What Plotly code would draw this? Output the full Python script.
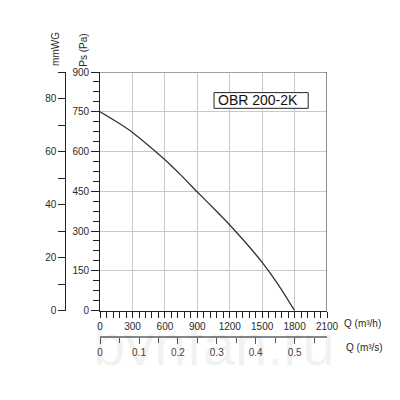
import plotly.graph_objects as go

# Data
q_m3h = [0, 150, 300, 450, 600, 750, 900, 1050, 1200, 1350, 1500, 1650, 1800]
ps_pa = [750, 713, 672, 622, 569, 510, 447, 386, 323, 255, 182, 97, 0]
x_ticks = [0, 300, 600, 900, 1200, 1500, 1800, 2100]
y_ticks = [0, 150, 300, 450, 600, 750, 900]
mm_ticks = [0, 20, 40, 60, 80]
qs_ticks = [0, 0.1, 0.2, 0.3, 0.4, 0.5]
model_label = "OBR 200-2K"

W, H = 400, 400
ML, MR, MT, MB = 0, 73, 72, 0
PW, PH = W - ML - MR, H - MT - MB

def px(X):
    return (X - ML) / PW

def py(Y):
    return (H - MB - Y) / PH

FONT = "Liberation Sans, Arial, sans-serif"
TXT = "#2a2a2a"
FS = 10

fig = go.Figure()

# Watermark (faint, semi-transparent)
fig.add_annotation(xref="paper", yref="paper", x=px(213), y=py(350), text="bvnfan.ru",
                   showarrow=False, xanchor="center", yanchor="middle",
                   font=dict(size=58, color="rgba(0,0,0,0.05)", family=FONT))

fig.add_trace(go.Scatter(x=q_m3h, y=ps_pa, mode="lines",
                         line=dict(color="#333333", width=1.3, shape="spline", smoothing=0.6),
                         hoverinfo="skip", showlegend=False))
fig.add_trace(go.Scatter(x=[0], y=[0], xaxis="x2", yaxis="y", mode="markers",
                         marker=dict(opacity=0), showlegend=False, hoverinfo="skip"))
fig.add_trace(go.Scatter(x=[0], y=[0], xaxis="x", yaxis="y2", mode="markers",
                         marker=dict(opacity=0), showlegend=False, hoverinfo="skip"))

x0 = px(98)
y0 = py(315)

fig.update_layout(
    width=W, height=H, margin=dict(l=ML, r=MR, t=MT, b=MB),
    paper_bgcolor="white", plot_bgcolor="white",
    font=dict(family=FONT, size=FS, color=TXT),
    xaxis=dict(domain=[x0, 1], range=[0, 2100], tickvals=x_ticks,
               showgrid=True, gridcolor="#c8c8c8", gridwidth=1,
               zeroline=False, showline=True, linecolor="#222", linewidth=1,
               ticks="outside", ticklen=6, tickcolor="#222",
               minor=dict(dtick=60, ticks="outside", ticklen=6, tickcolor="#222", showgrid=False),
               tickfont=dict(size=FS, color=TXT), fixedrange=True),
    yaxis=dict(domain=[y0, 1], range=[0, 900], tickvals=y_ticks,
               showgrid=True, gridcolor="#c8c8c8", gridwidth=1,
               zeroline=False, showline=True, linecolor="#222", linewidth=1,
               ticks="outside", ticklen=8, tickcolor="#222",
               minor=dict(dtick=37.5, ticks="outside", ticklen=6, tickcolor="#222", showgrid=False),
               tickfont=dict(size=FS, color=TXT), fixedrange=True),
    xaxis2=dict(domain=[x0, 1], range=[0, 2100 / 3600], overlaying="x", anchor="free",
                position=py(342), side="bottom", tickvals=qs_ticks, ticktext=[str(v) for v in qs_ticks],
                showgrid=False, zeroline=False, showline=True, linecolor="#888", linewidth=2,
                ticks="outside", ticklen=6, tickcolor="#555",
                minor=dict(dtick=0.05, ticks="outside", ticklen=5, tickcolor="#555", showgrid=False),
                tickfont=dict(size=FS, color="#444"), fixedrange=True),
    yaxis2=dict(range=[0, 90], overlaying="y", anchor="free", position=px(63), side="left",
                tickvals=mm_ticks, showgrid=False, zeroline=False, showline=True,
                linecolor="#222", linewidth=1, ticks="outside", ticklen=7, tickcolor="#222",
                minor=dict(dtick=10, ticks="outside", ticklen=7, tickcolor="#222", showgrid=False),
                tickfont=dict(size=FS, color=TXT), fixedrange=True),
)

# Borders: top grey, right black
fig.add_shape(type="line", xref="x", yref="y", x0=0, x1=2100, y0=900, y1=900,
              line=dict(color="#a0a0a0", width=2))
fig.add_shape(type="line", xref="x", yref="y", x0=2100, x1=2100, y0=0, y1=900,
              line=dict(color="#222", width=1))

# Model label box
fig.add_shape(type="rect", xref="paper", yref="paper",
              x0=px(213), x1=px(308), y0=py(109), y1=py(93),
              line=dict(color="#222", width=1), fillcolor="white")
fig.add_annotation(xref="paper", yref="paper", x=px(215), y=py(101), text=model_label,
                   showarrow=False, xanchor="left", yanchor="middle",
                   font=dict(size=14, color="#111", family=FONT))

# Axis titles
fig.add_annotation(xref="paper", yref="paper", x=px(53), y=py(49), text="mmWG", textangle=-90,
                   showarrow=False, xanchor="center", yanchor="middle", font=dict(size=10, color=TXT))
fig.add_annotation(xref="paper", yref="paper", x=px(81), y=py(50), text="Ps (Pa)", textangle=-90,
                   showarrow=False, xanchor="center", yanchor="middle", font=dict(size=10, color=TXT))
fig.add_annotation(xref="paper", yref="paper", x=px(342), y=py(328), text="Q (m³/h)",
                   showarrow=False, xanchor="left", yanchor="middle", font=dict(size=10, color=TXT))
fig.add_annotation(xref="paper", yref="paper", x=px(344), y=py(353), text="Q (m³/s)",
                   showarrow=False, xanchor="left", yanchor="middle", font=dict(size=10, color=TXT))

fig.write_html("out.html")
